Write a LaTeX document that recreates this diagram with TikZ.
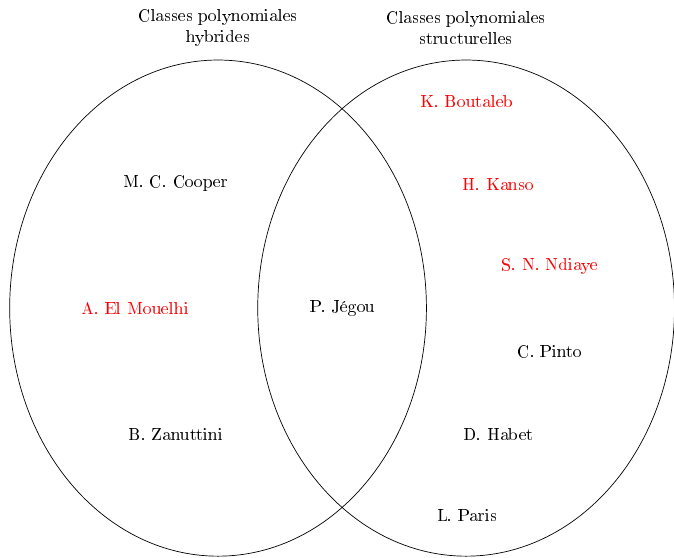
\documentclass[tikz,border=0pt]{standalone}
\usepackage[T1]{fontenc}
\usepackage{xcolor}
\usepackage{tikz}

\begin{document}
\begin{tikzpicture}[every node/.style={font=\normalsize}, chercheur/.style={}, nouveau/.style={text=red}]
    \useasboundingbox (-4.395,-5.02) rectangle (9.19,6.21);
    % les deux ensembles
    \draw (0,0) ellipse (4.2cm and 5cm);
    \draw (5,0) ellipse (4.2cm and 5cm);
    \node[align=center] (hyb) at (0,5.65) {Classes polynomiales\\hybrides};
    \node[align=center] (struc) at (5,5.65) {Classes polynomiales\\structurelles};
    % membres
    \node[chercheur] (cooper) at (-0.85,2.52) {M. C. Cooper};
    \node[nouveau] (elmouelhi) at (-1.67,0) {A. El Mouelhi};
    \node[chercheur] (zanuttini) at (-0.85,-2.54) {B. Zanuttini};
    \node[chercheur] (jegou) at (2.52,0) {P. Jégou};
    \node[nouveau] (boutaleb) at (5.02,4.17) {K. Boutaleb};
    \node[nouveau] (kanso) at (5.65,2.5) {H. Kanso};
    \node[nouveau] (ndiaye) at (6.69,0.85) {S. N. Ndiaye};
    \node[chercheur] (pinto) at (6.69,-0.87) {C. Pinto};
    \node[chercheur] (habet) at (5.65,-2.54) {D. Habet};
    \node[chercheur] (paris) at (5.02,-4.19) {L. Paris};
\end{tikzpicture}
\end{document}
